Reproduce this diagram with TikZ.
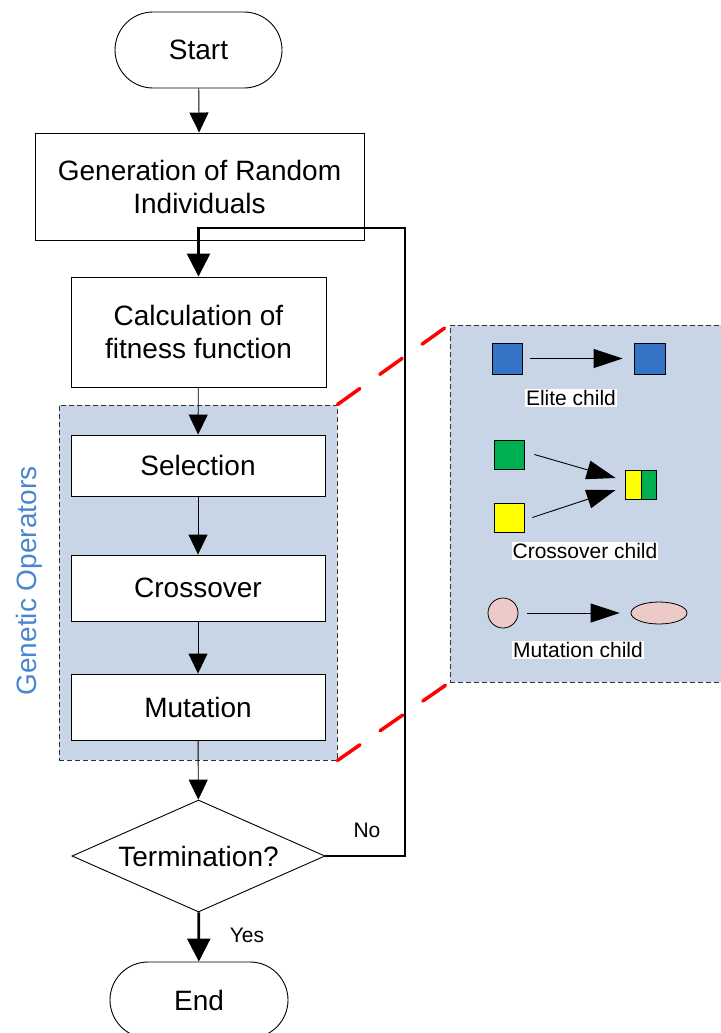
\documentclass[tikz,border=0pt]{standalone}
\usepackage{fontspec}
\setmainfont{Liberation Sans}
\usetikzlibrary{shapes.geometric,shapes.misc,arrows.meta,calc}

\definecolor{panelfill}{RGB}{200,213,230}
\definecolor{opsblue}{RGB}{74,134,208}
\definecolor{eliteblue}{RGB}{54,116,200}
\definecolor{crossgreen}{RGB}{0,176,80}
\definecolor{crossyellow}{RGB}{255,255,0}
\definecolor{mutpink}{RGB}{236,202,200}

\tikzset{
  bigfont/.style={font=\fontsize{28}{33}\selectfont},
  smallfont/.style={font=\fontsize{21}{24}\selectfont},
  terminal/.style={rounded rectangle, draw, line width=0.9pt, fill=white, bigfont, inner sep=0pt},
  stepbox/.style={rectangle, draw, line width=0.9pt, fill=white, bigfont, align=center, inner sep=0pt},
  decision/.style={diamond, draw, line width=0.9pt, fill=white, bigfont, inner sep=0pt},
  groupbox/.style={rectangle, draw=black!80, dash pattern=on 5pt off 3pt, line width=0.9pt, fill=panelfill, inner sep=0pt},
  flow/.style={line width=0.9pt, -{Triangle[length=20pt,width=19pt]}},
  boldflow/.style={line width=2.7pt, -{Triangle[length=23pt,width=23pt]}},
  thinflow/.style={line width=0.9pt, -{Triangle[length=29pt,width=19pt]}},
  piece/.style={rectangle, draw, line width=0.8pt, inner sep=0pt},
  caption/.style={smallfont, fill=white, inner sep=1pt},
  zoomline/.style={red, line width=3.5pt, line cap=round, dash pattern=on 27.5pt off 24.5pt}
}

\begin{document}
\begin{tikzpicture}[x=1pt,y=-1pt]
\useasboundingbox (0,0) rectangle (720,1033);

% operator group and its enlarged view
\node[groupbox, minimum width=278, minimum height=355] (ops) at (198,582.5) {};
\node[groupbox, minimum width=272, minimum height=357] (zoom) at (586,503.5) {};
\node[rotate=90, bigfont, text=opsblue] (opslabel) at (29,581) {Genetic Operators};

\draw[zoomline] (ops.north east) -- (zoom.north west);
\draw[zoomline] (ops.south east) -- (zoom.south west);

% main flow
\node[terminal, minimum width=167, minimum height=76] (start) at (198.5,50) {Start};
\node[stepbox, minimum width=329, minimum height=107] (gen) at (199.5,186.5) {Generation of Random\\Individuals};
\node[stepbox, minimum width=255, minimum height=110] (calc) at (198.5,332) {Calculation of\\fitness function};
\node[stepbox, minimum width=254, minimum height=61] (sel) at (198,465.5) {Selection};
\node[stepbox, minimum width=254, minimum height=66] (cross) at (198,588) {Crossover};
\node[stepbox, minimum width=254, minimum height=66] (mut) at (198,707) {Mutation};
\node[decision, minimum width=253, minimum height=112, aspect=2.26] (term) at (198.5,856) {Termination?};
\node[terminal, minimum width=178, minimum height=76] (end) at (199,1000) {End};

\draw[flow] (start) -- (gen);
\draw[flow] (calc) -- (sel);
\draw[flow] (sel) -- (cross);
\draw[flow] (cross) -- (mut);
\draw[flow] (mut) -- (term);
\draw[boldflow] (term) -- (end);

% loop back when not terminated
\coordinate (loopcorner) at (405,228);
\draw[boldflow] (term.east) -| (loopcorner) -| (calc.north);

\node[smallfont] (nolabel) at (367,830) {No};
\node[smallfont] (yeslabel) at (247,935) {Yes};

% elite child
\node[piece, fill=eliteblue, minimum width=30, minimum height=31] (e1) at (507,358.5) {};
\node[piece, fill=eliteblue, minimum width=31, minimum height=31] (e2) at (649.5,358.5) {};
\draw[thinflow, shorten <=8pt, shorten >=11pt] (e1) -- (e2);
\node[caption] (elitecap) at (571,398) {Elite child};

% crossover child
\node[piece, fill=crossgreen, minimum width=30, minimum height=29] (pg) at (509,454.5) {};
\node[piece, fill=crossyellow, minimum width=30, minimum height=29] (py) at (509,517.5) {};
\node[piece, fill=crossyellow, minimum width=16, minimum height=29] (cy) at (633,484.5) {};
\node[piece, fill=crossgreen, minimum width=15, minimum height=29] (cg) at (648.5,484.5) {};
\draw[thinflow] ($(pg.east)+(10,0)$) -- ($(cy.west)+(-9,-6.5)$);
\draw[thinflow] ($(py.east)+(8,0)$) -- ($(cy.west)+(-9,5.5)$);
\node[caption] (crosscap) at (585,551) {Crossover child};

% mutation child
\node[circle, draw, line width=0.8pt, fill=mutpink, minimum size=30, inner sep=0pt] (m1) at (503,613) {};
\node[ellipse, draw, line width=0.8pt, fill=mutpink, minimum width=56, minimum height=22, inner sep=0pt] (m2) at (659,613) {};
\draw[thinflow, shorten <=9pt, shorten >=11pt] (m1) -- (m2);
\node[caption] (mutcap) at (578,650) {Mutation child};
\end{tikzpicture}
\end{document}
